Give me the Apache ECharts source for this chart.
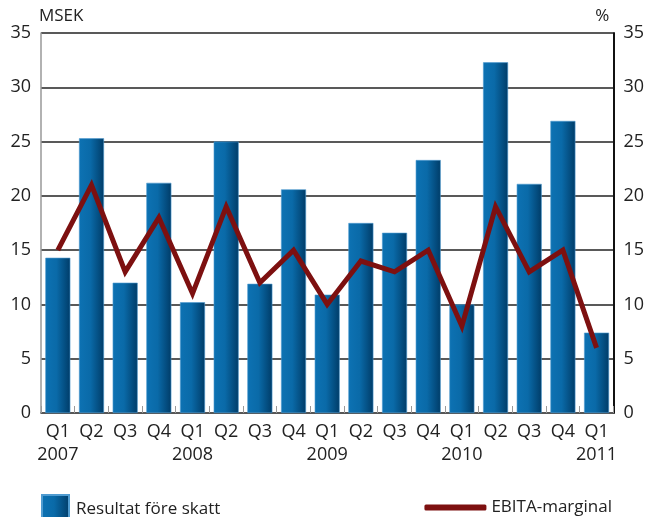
<!DOCTYPE html>
<html lang="sv">
<head>
<meta charset="UTF-8">
<title>Resultat</title>
<style>
html, body { margin: 0; padding: 0; background: #fff; }
#main { width: 647px; height: 517px; }
</style>
</head>
<body>
<div id="main"></div>
<script src="https://cdn.jsdelivr.net/npm/echarts@6/dist/echarts.min.js"></script>
<script>
// kvartal och år
var quarters = ['Q1','Q2','Q3','Q4','Q1','Q2','Q3','Q4','Q1','Q2','Q3','Q4','Q1','Q2','Q3','Q4','Q1'];
var years    = ['2007','','','','2008','','','','2009','','','','2010','','','','2011'];
// Resultat före skatt, MSEK
var resultat = [14.3, 25.3, 12.0, 21.2, 10.2, 25.0, 11.9, 20.6, 10.9, 17.5, 16.6, 23.3, 10.0, 32.3, 21.1, 26.9, 7.4];
// EBITA-marginal, %
var ebita = [15, 21, 13, 18, 11, 19, 12, 15, 10, 14, 13, 15, 8, 19, 13, 15, 6];

var cats = quarters.map(function (q, i) { return q + '\n' + years[i]; });
var font = '"Open Sans", "DejaVu Sans", sans-serif';

var barColor = {
    type: 'linear', x: 0, y: 0, x2: 1, y2: 0,
    colorStops: [
        { offset: 0, color: '#0d72b3' },
        { offset: 0.45, color: '#0a6aa8' },
        { offset: 1, color: '#003c68' }
    ]
};

var chart = echarts.init(document.getElementById('main'));
var option = {
    animation: false,
    textStyle: { fontFamily: font },
    grid: { left: 41, right: 31, top: 33, bottom: 104, containLabel: false },
    legend: [{
        left: 36, top: 489,
        itemWidth: 27, itemHeight: 28, itemGap: 10,
        textStyle: { fontSize: 17, color: '#222', fontFamily: font, padding: [0, 0, 0, 2] },
        data: [{ name: 'Resultat före skatt', icon: 'rect' }]
    }, {
        right: 30, top: 494,
        itemWidth: 62, itemHeight: 6, itemGap: 10,
        textStyle: { fontSize: 17, color: '#222', fontFamily: font },
        data: [{ name: 'EBITA-marginal', icon: 'roundRect' }]
    }],
    xAxis: {
        type: 'category',
        data: cats,
        axisLine: { lineStyle: { color: '#555', width: 1.5 } },
        axisTick: { show: true, inside: true, length: 7, lineStyle: { color: '#999' } },
        axisLabel: { fontSize: 18, color: '#222', lineHeight: 23, margin: 7, interval: 0 }
    },
    yAxis: [{
        type: 'value', min: 0, max: 35, interval: 5,
        name: 'MSEK', nameGap: 8,
        nameTextStyle: { fontSize: 17, color: '#222', align: 'left', padding: [0, 0, 0, -2] },
        axisLine: { show: true, lineStyle: { color: '#999', width: 1.5 } },
        axisTick: { show: false },
        axisLabel: { fontSize: 18, color: '#222', margin: 10 },
        splitLine: { lineStyle: { color: '#222', width: 1.5 } }
    }, {
        type: 'value', min: 0, max: 35, interval: 5,
        name: '%', nameGap: 8,
        nameTextStyle: { fontSize: 17, color: '#222', align: 'right', padding: [0, 4, 0, 0] },
        axisLine: { show: true, lineStyle: { color: '#111', width: 2 } },
        axisTick: { show: false },
        axisLabel: { fontSize: 18, color: '#222', margin: 10 },
        splitLine: { show: false }
    }],
    series: [{
        name: 'Resultat före skatt',
        type: 'bar',
        data: resultat,
        barWidth: 25,
        itemStyle: { color: barColor, borderColor: '#4f9bd0', borderWidth: 0.6 }
    }, {
        name: 'EBITA-marginal',
        type: 'line',
        yAxisIndex: 1,
        data: ebita,
        symbol: 'none',
        lineStyle: { color: '#7d1010', width: 5, join: 'miter' },
        itemStyle: { color: '#7d1010' }
    }]
};
chart.setOption(option);
</script>
</body>
</html>
